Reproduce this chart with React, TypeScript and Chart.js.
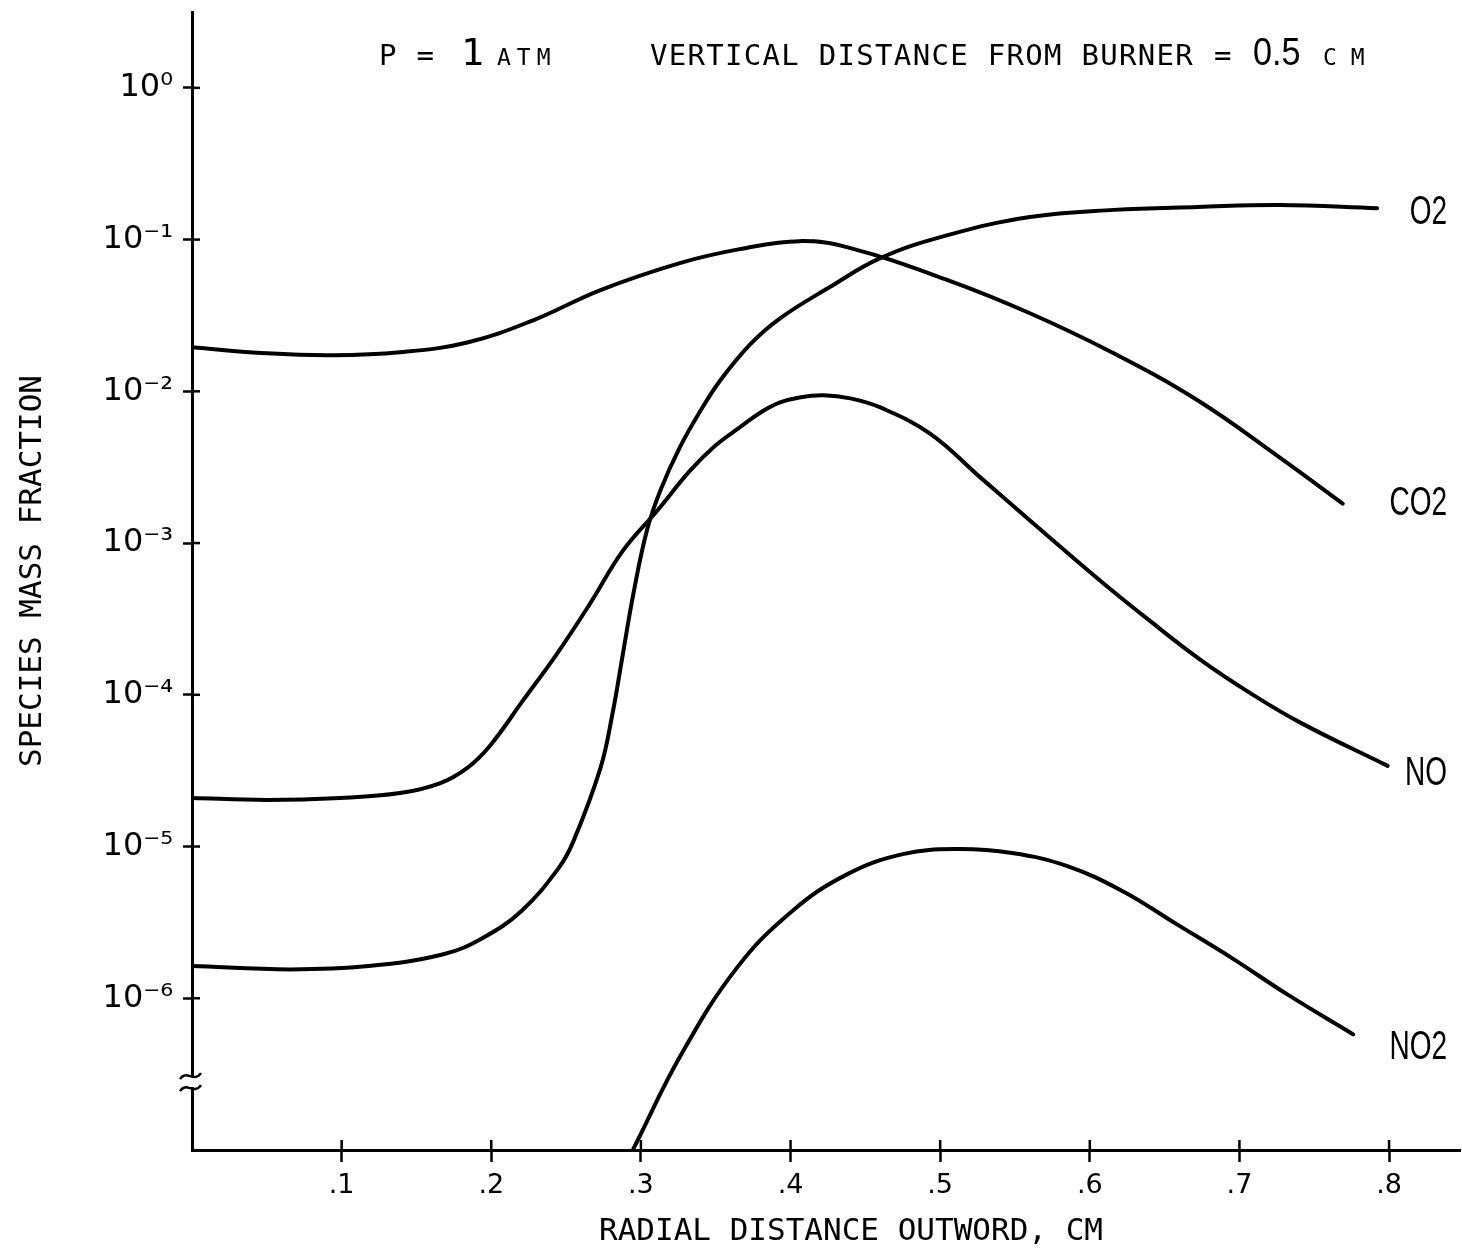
import React, { useEffect, useRef } from "react";
import { Chart, registerables } from "chart.js";

Chart.register(...registerables);

// ---- data ----
const O2_X = [0, 0.066, 0.118, 0.168, 0.194, 0.22, 0.245, 0.255, 0.273, 0.281, 0.288, 0.295, 0.304, 0.313, 0.326, 0.34, 0.353, 0.373, 0.393, 0.426, 0.46, 0.505, 0.56, 0.616, 0.672, 0.727, 0.792];
const O2_Y = [1.63e-6, 1.55e-6, 1.63e-6, 1.95e-6, 2.49e-6, 3.75e-6, 7.21e-6, 1.09e-5, 3.3e-5, 7.5e-5, 1.87e-4, 4.65e-4, 1.21e-3, 2.22e-3, 4.27e-3, 7.5e-3, 1.18e-2, 2.04e-2, 3.03e-2, 4.85e-2, 7.55e-2, 0.107, 0.141, 0.157, 0.164, 0.169, 0.161];

const CO2_X = [0, 0.05, 0.094, 0.139, 0.184, 0.228, 0.273, 0.326, 0.366, 0.406, 0.44, 0.505, 0.56, 0.616, 0.672, 0.727, 0.769];
const CO2_Y = [0.0195, 0.0178, 0.0173, 0.0181, 0.021, 0.0294, 0.0465, 0.07, 0.0865, 0.0977, 0.0879, 0.0541, 0.0327, 0.0178, 0.00873, 0.00366, 0.00182];

const NO_X = [0, 0.05, 0.099, 0.139, 0.166, 0.184, 0.199, 0.221, 0.244, 0.266, 0.288, 0.311, 0.333, 0.35, 0.366, 0.38, 0.393, 0.406, 0.422, 0.44, 0.46, 0.493, 0.527, 0.56, 0.607, 0.64, 0.674, 0.707, 0.741, 0.799];
const NO_Y = [2.09e-5, 2.03e-5, 2.09e-5, 2.25e-5, 2.62e-5, 3.3e-5, 4.6e-5, 9.12e-5, 1.87e-4, 3.99e-4, 8.91e-4, 1.64e-3, 3.01e-3, 4.41e-3, 5.78e-3, 7.26e-3, 8.45e-3, 9.12e-3, 9.42e-3, 8.99e-3, 7.83e-3, 5.28e-3, 2.7e-3, 1.41e-3, 5.65e-4, 3.08e-4, 1.7e-4, 1.03e-4, 6.53e-5, 3.4e-5];

const NO2_X = [0.295, 0.327, 0.364, 0.401, 0.438, 0.475, 0.511, 0.548, 0.585, 0.622, 0.658, 0.695, 0.732, 0.776];
const NO2_Y = [1.02e-7, 4.27e-7, 1.58e-6, 3.75e-6, 6.58e-6, 8.91e-6, 9.62e-6, 9.06e-6, 7.43e-6, 5.08e-6, 3.08e-6, 1.84e-6, 1.06e-6, 5.78e-7];

const SERIES_NAMES = ["O2", "CO2", "NO", "NO2"];
const SERIES_X = [O2_X, CO2_X, NO_X, NO2_X];
const SERIES_Y = [O2_Y, CO2_Y, NO_Y, NO2_Y];

const Y_TICKS = [1, 0.1, 0.01, 0.001, 1e-4, 1e-5, 1e-6];
const Y_TICK_LABELS = ["10⁰", "10⁻¹", "10⁻²", "10⁻³", "10⁻⁴", "10⁻⁵", "10⁻⁶"];
const X_TICKS = [0.1, 0.2, 0.3, 0.4, 0.5, 0.6, 0.7, 0.8];
const X_TICK_LABELS = [".1", ".2", ".3", ".4", ".5", ".6", ".7", ".8"];

const X_TITLE = "RADIAL DISTANCE OUTWORD, CM";
const Y_TITLE = "SPECIES MASS FRACTION";
const TITLE_P = "P =";
const TITLE_P_VAL = "1";
const TITLE_P_UNIT = "ATM";
const TITLE_D = "VERTICAL DISTANCE FROM BURNER";
const TITLE_EQ = "=";
const TITLE_D_VAL = "0.5";
const TITLE_D_UNIT = "CM";

const Y_MIN = 1e-7;
const Y_MAX = 3.1623;
const X_MIN = 0;
const X_MAX = 0.8474;
const BREAK_VALUE = 2.8e-7;

// label vertical offsets (style, px)
const LABEL_DY = [5, 0, 8, 14];

const MONO = "'DejaVu Sans Mono', 'Liberation Mono', monospace";
const SANS = "'DejaVu Sans', 'Liberation Sans', sans-serif";

const annotatePlugin = {
  id: "annotate",
  afterDraw(chart: any) {
    const ctx: CanvasRenderingContext2D = chart.ctx;
    const { left, right, bottom } = chart.chartArea;
    const xs = chart.scales.x;
    const ys = chart.scales.y;
    ctx.save();
    ctx.strokeStyle = "#000";
    ctx.fillStyle = "#000";
    ctx.lineCap = "butt";

    // inner halves of the crossing tick marks
    ctx.lineWidth = 2.5;
    Y_TICKS.forEach((v) => {
      const py = ys.getPixelForValue(v);
      ctx.beginPath();
      ctx.moveTo(left, py);
      ctx.lineTo(left + 8, py);
      ctx.stroke();
    });
    X_TICKS.forEach((v) => {
      const px = xs.getPixelForValue(v);
      ctx.beginPath();
      ctx.moveTo(px, bottom);
      ctx.lineTo(px, bottom - 10);
      ctx.stroke();
    });

    // axis break symbol
    const by = ys.getPixelForValue(BREAK_VALUE);
    ctx.fillStyle = "#fff";
    ctx.fillRect(left - 4, by - 5, 8, 10);
    ctx.fillStyle = "#000";
    ctx.lineWidth = 2.5;
    [-6, 6].forEach((d) => {
      ctx.beginPath();
      ctx.moveTo(left - 12, by + d + 3);
      ctx.bezierCurveTo(left - 6, by + d - 7, left + 2, by + d + 7, left + 9, by + d - 3);
      ctx.stroke();
    });

    // series labels at the right end of each curve
    ctx.textAlign = "right";
    ctx.textBaseline = "middle";
    ctx.font = `40px 'Liberation Sans', ${SANS}`;
    SERIES_NAMES.forEach((name, i) => {
      const ySeries = SERIES_Y[i];
      const py = ys.getPixelForValue(ySeries[ySeries.length - 1]) + LABEL_DY[i];
      ctx.save();
      ctx.translate(right - 13, py);
      ctx.scale(0.7, 1);
      ctx.fillText(name, 0, 0);
      ctx.restore();
    });

    // header text
    const c: any = ctx;
    ctx.textAlign = "left";
    ctx.textBaseline = "alphabetic";
    const base = 65;
    ctx.font = `29px ${MONO}`;
    c.letterSpacing = "1.3px";
    ctx.fillText(TITLE_P, 379, base);
    ctx.fillText(TITLE_D, 650, base);
    ctx.fillText(TITLE_EQ, 1214, base);
    c.letterSpacing = "0px";
    ctx.font = `38px ${MONO}`;
    ctx.fillText(TITLE_P_VAL, 461, base);
    ctx.font = `23px ${MONO}`;
    c.letterSpacing = "6px";
    ctx.fillText(TITLE_P_UNIT, 497, base);
    c.letterSpacing = "14px";
    ctx.fillText(TITLE_D_UNIT, 1323, base);
    c.letterSpacing = "0px";
    ctx.font = `38px 'Liberation Sans', ${SANS}`;
    ctx.save();
    ctx.translate(1253, base);
    ctx.scale(0.9, 1);
    ctx.fillText(TITLE_D_VAL, 0, 0);
    ctx.restore();

    // axis titles
    ctx.font = `31px ${MONO}`;
    ctx.textAlign = "center";
    ctx.textBaseline = "middle";
    ctx.fillText(X_TITLE, 851, 1232);
    ctx.save();
    ctx.translate(33, 571);
    ctx.rotate(-Math.PI / 2);
    ctx.fillText(Y_TITLE, 0, 0);
    ctx.restore();

    ctx.restore();
  },
};

export default function App() {
  const ref = useRef<HTMLCanvasElement>(null);

  useEffect(() => {
    const canvas = ref.current;
    if (!canvas) return;
    const datasets = SERIES_NAMES.map((name, i) => ({
      label: name,
      data: SERIES_X[i].map((x, j) => ({ x, y: SERIES_Y[i][j] })),
      borderColor: "#000",
      backgroundColor: "#000",
      borderWidth: 4,
      pointRadius: 0,
      fill: false,
      tension: 0.4,
      borderCapStyle: "round" as const,
      borderJoinStyle: "round" as const,
    }));

    const chart = new Chart(canvas, {
      type: "line",
      data: { datasets },
      plugins: [annotatePlugin],
      options: {
        animation: false,
        responsive: false,
        devicePixelRatio: 1,
        layout: { padding: { top: 12, right: 2, left: 0, bottom: 0 } },
        plugins: {
          legend: { display: false },
          tooltip: { enabled: false },
          title: { display: false },
        },
        scales: {
          x: {
            type: "linear",
            min: X_MIN,
            max: X_MAX,
            afterFit: (s: any) => {
              s.height = 99;
              s.paddingLeft = 0;
              s.paddingRight = 0;
            },
            afterBuildTicks: (s: any) => {
              s.ticks = X_TICKS.map((v) => ({ value: v }));
            },
            ticks: {
              autoSkip: false,
              maxRotation: 0,
              color: "#000",
              padding: 8,
              font: { family: SANS, size: 27 },
              callback: (v: any) => {
                const i = X_TICKS.findIndex((t) => Math.abs(t - Number(v)) < 1e-6);
                return i >= 0 ? X_TICK_LABELS[i] : "";
              },
            },
            grid: {
              display: true,
              drawOnChartArea: false,
              drawTicks: true,
              tickLength: 12,
              tickColor: "#000",
              tickWidth: 2.5,
              color: "#000",
            },
            border: { display: true, color: "#000", width: 3 },
          },
          y: {
            type: "logarithmic",
            min: Y_MIN,
            max: Y_MAX,
            afterFit: (s: any) => {
              s.width = 192;
              s.paddingTop = 0;
              s.paddingBottom = 0;
            },
            afterBuildTicks: (s: any) => {
              s.ticks = Y_TICKS.map((v) => ({ value: v }));
            },
            ticks: {
              autoSkip: false,
              color: "#000",
              padding: 10,
              font: { family: SANS, size: 32 },
              callback: (v: any) => {
                const i = Y_TICKS.findIndex((t) => Math.abs(Math.log10(t) - Math.log10(Number(v))) < 1e-6);
                return i >= 0 ? Y_TICK_LABELS[i] : "";
              },
            },
            grid: {
              display: true,
              drawOnChartArea: false,
              drawTicks: true,
              tickLength: 9,
              tickColor: "#000",
              tickWidth: 2.5,
              color: "#000",
            },
            border: { display: true, color: "#000", width: 3 },
          },
        },
      },
    } as any);

    return () => chart.destroy();
  }, []);

  return (
    <div style={{ position: "absolute", left: 0, top: 0, width: 1462, height: 1249, background: "#fff" }}>
      <canvas ref={ref} width={1462} height={1249} style={{ display: "block", width: 1462, height: 1249 }} />
    </div>
  );
}
